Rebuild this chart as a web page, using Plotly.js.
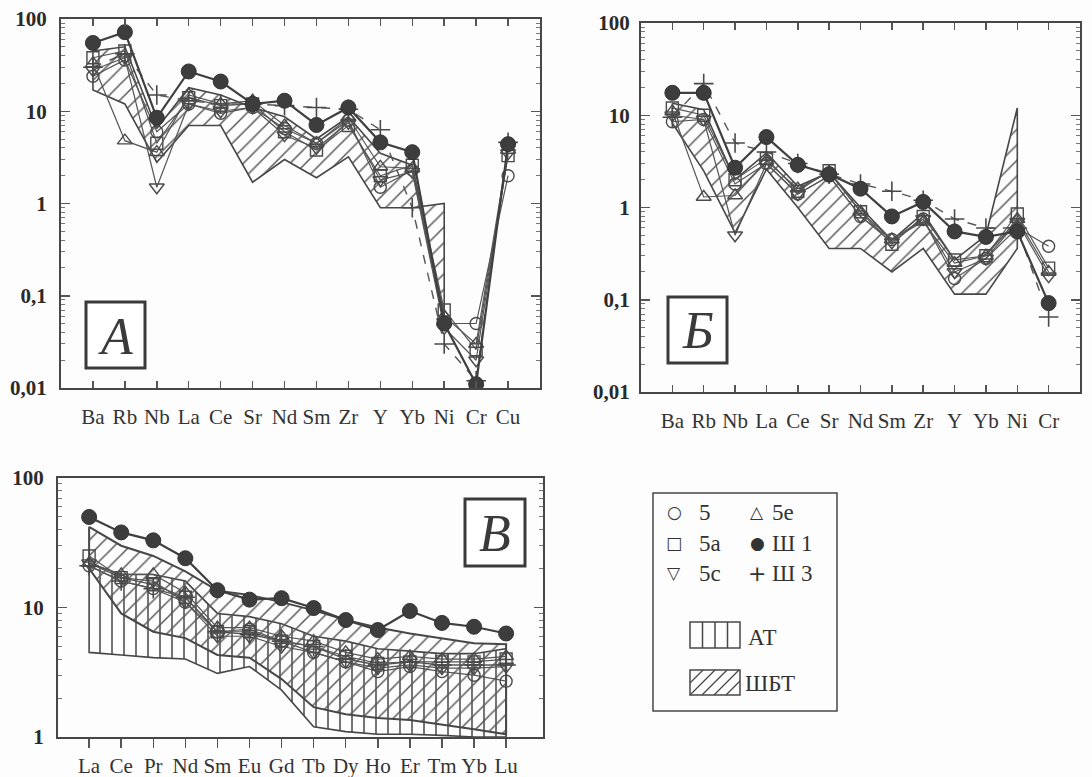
<!DOCTYPE html>
<html><head><meta charset="utf-8">
<script src="https://cdn.plot.ly/plotly-3.0.1.min.js"></script>
<style>html,body{margin:0;padding:0;background:#fff}#chart{width:1092px;height:777px}</style>
</head><body><div id="chart"></div>
<script>
// ---------- categories ----------
const catsA = ['Ba','Rb','Nb','La','Ce','Sr','Nd','Sm','Zr','Y','Yb','Ni','Cr','Cu'];
const catsB = ['Ba','Rb','Nb','La','Ce','Sr','Nd','Sm','Zr','Y','Yb','Ni','Cr'];
const catsV = ['La','Ce','Pr','Nd','Sm','Eu','Gd','Tb','Dy','Ho','Er','Tm','Yb','Lu'];
const yTickVals = [0.01, 0.1, 1, 10, 100];
const yTickText = ['0,01', '0,1', '1', '10', '100'];
const yTickValsV = [1, 10, 100];
const yTickTextV = ['1', '10', '100'];

// ---------- panel A ----------
const a_5   = [24, 36, 6.0, 12, 9.5, 11, 6.5, 4.5, 8, 1.5, 2.3, 0.05, 0.05, 2.0];
const a_5a  = [38, 45, 4.5, 14, 11.5, 12, 6, 3.8, 7, 2.0, 2.6, 0.07, 0.026, 3.3];
const a_5c  = [28, 38, 1.5, 12, 10, 11, 5.5, 4.0, 7.5, 1.8, 2.2, 0.045, 0.02, 3.5];
const a_5e  = [33, 4.8, 3.6, 15, 12, 13, 7, 4.5, 8.5, 2.5, 2.4, 0.06, 0.03, 3.8];
const a_sh1 = [55, 72, 8.5, 27, 21, 12, 13, 7.1, 11, 4.6, 3.6, 0.05, 0.011, 4.4];
const a_sh3 = [30, 42, 15, 13, 12, 12, 11.5, 11, 10.5, 6.3, 0.9, 0.03, 0.012, 4.6];
const a_shbtUpper = [45, 50, 6.5, 18, 15, 11, 8.7, 5, 8.7, 3.5, 2.6, 0.06];
const a_shbtLower = [17, 12, 2.8, 7, 7, 1.7, 3.0, 1.9, 3.2, 0.9, 0.9, 1.0];

// ---------- panel B ----------
const b_5   = [8.5, 9, 1.8, 3.0, 1.4, 2.2, 0.8, 0.45, 0.75, 0.17, 0.28, 0.6, 0.38];
const b_5a  = [12, 10, 2.0, 3.4, 1.5, 2.5, 0.9, 0.4, 0.8, 0.27, 0.3, 0.85, 0.22];
const b_5c  = [10, 9, 0.5, 3.0, 1.4, 2.2, 0.8, 0.42, 0.75, 0.2, 0.28, 0.7, 0.18];
const b_5e  = [11, 1.3, 1.35, 3.2, 1.6, 2.4, 0.9, 0.45, 0.7, 0.25, 0.3, 0.75, 0.2];
const b_sh1 = [17.5, 17.5, 2.7, 5.8, 2.9, 2.3, 1.6, 0.8, 1.15, 0.55, 0.48, 0.55, 0.092];
const b_sh3 = [9.5, 22, 5, 4, 3, 2.3, 1.8, 1.5, 1.2, 0.75, 0.6, 0.6, 0.065];
const b_shbtUpper = [13.5, 11.5, 2.0, 3.9, 1.7, 2.4, 1.0, 0.44, 0.87, 0.27, 0.5, 12];
const b_shbtLower = [8.2, 2.5, 0.53, 2.6, 1.0, 0.36, 0.36, 0.2, 0.36, 0.115, 0.115, 0.36];

// ---------- panel V ----------
const v_5   = [21, 16, 14, 11, 6.5, 6.8, 5.5, 4.5, 3.8, 3.2, 3.5, 3.2, 3.0, 2.7];
const v_5a  = [25, 17, 15, 12, 6.5, 6.5, 5.5, 5.0, 4.2, 3.7, 3.8, 3.8, 3.8, 4.0];
const v_5c  = [22, 17, 16, 11, 6.0, 6.0, 5.0, 4.5, 3.8, 3.4, 3.6, 3.4, 3.4, 3.5];
const v_5e  = [22, 18, 18, 13, 7.0, 7.0, 6.0, 5.5, 4.5, 4.0, 4.2, 4.0, 4.0, 4.2];
const v_sh1 = [50, 38, 33, 24, 13.6, 11.5, 11.8, 9.9, 8.0, 6.7, 9.4, 7.6, 7.1, 6.3];
const v_sh3 = [21, 16, 14, 12, 6.5, 6.2, 5.5, 5.0, 4.0, 3.6, 3.8, 3.6, 3.6, 3.6];
const v_shbtUpper = [42, 30, 25, 19, 13.5, 12.5, 11, 9.5, 8, 7, 6.3, 5.8, 5.3, 5.2];
const v_shbtLower = [20, 9, 6.5, 5.8, 4.3, 4.1, 2.8, 1.7, 1.5, 1.4, 1.35, 1.25, 1.15, 1.05];
const v_atUpper = [22, 18, 18, 16, 9, 8.5, 7.5, 6, 5.5, 4.8, 4.6, 4.4, 4.4, 4.8];
const v_atLower = [4.5, 4.3, 4.1, 4.0, 3.1, 3.5, 2.3, 1.2, 1.1, 1.05, 1.05, 1.03, 1.0, 1.0];

// ---------- helpers ----------
const W = 1092, H = 777;
const fx = p => p / W;
const fy = p => 1 - p / H;
const INK = '#474747';
const SERIF = 'Liberation Serif';

function band(cats, upper, lower, xa, ya, shape, size, lw) {
  const xs = cats.slice(0, upper.length);
  return {
    type: 'scatter', mode: 'lines', xaxis: xa, yaxis: ya,
    x: xs.concat(xs.slice().reverse()).concat([xs[0]]),
    y: upper.concat(lower.slice().reverse()).concat([upper[0]]),
    fill: 'toself', fillcolor: 'rgba(0,0,0,0)',
    fillpattern: {shape: shape, size: size, solidity: 0.14, fgcolor: '#5a5a5a', bgcolor: 'rgba(0,0,0,0)'},
    line: {color: INK, width: lw}, hoverinfo: 'skip', showlegend: false
  };
}
function series(cats, vals, xa, ya, symbol, msize, opts) {
  opts = opts || {};
  return {
    type: 'scatter', mode: 'lines+markers', xaxis: xa, yaxis: ya,
    x: cats, y: vals,
    line: {color: opts.lc || '#555', width: opts.lw || 1.2, dash: opts.dash || 'solid'},
    marker: {symbol: symbol, size: msize, color: opts.mc || '#4a4a4a',
             line: {color: opts.mlc || '#4a4a4a', width: opts.mlw || 1.4}},
    showlegend: false, hoverinfo: 'skip'
  };
}
function panelSeries(cats, d, xa, ya, sh3dash) {
  return [
    series(cats, d.s5, xa, ya, 'circle-open', 12),
    series(cats, d.s5a, xa, ya, 'square-open', 12),
    series(cats, d.s5c, xa, ya, 'triangle-down-open', 13),
    series(cats, d.s5e, xa, ya, 'triangle-up-open', 13),
    series(cats, d.sh3, xa, ya, 'cross-thin-open', 14, {dash: sh3dash ? 'dash' : 'solid', lw: 1.4, mlw: 1.6}),
    series(cats, d.sh1, xa, ya, 'circle', 15, {lw: 2.2, lc: '#404040', mc: '#3d3d3d', mlc: '#333', mlw: 1})
  ];
}

const traces = [];
traces.push(band(catsA, a_shbtUpper, a_shbtLower, 'x', 'y', '/', 11, 1.6));
traces.push(...panelSeries(catsA, {s5: a_5, s5a: a_5a, s5c: a_5c, s5e: a_5e, sh1: a_sh1, sh3: a_sh3}, 'x', 'y', true));
traces.push(band(catsB, b_shbtUpper, b_shbtLower, 'x2', 'y2', '/', 11, 1.6));
traces.push(...panelSeries(catsB, {s5: b_5, s5a: b_5a, s5c: b_5c, s5e: b_5e, sh1: b_sh1, sh3: b_sh3}, 'x2', 'y2', true));
traces.push(band(catsV, v_atUpper, v_atLower, 'x3', 'y3', '|', 12, 1.6));
traces.push(band(catsV, v_shbtUpper, v_shbtLower, 'x3', 'y3', '/', 11, 2.0));
traces.push(...panelSeries(catsV, {s5: v_5, s5a: v_5a, s5c: v_5c, s5e: v_5e, sh1: v_sh1, sh3: v_sh3}, 'x3', 'y3', false));

function minorVals(lo, hi) {
  const v = [];
  for (let e = lo; e < hi; e++) for (let m = 2; m <= 9; m++) v.push(+(m * Math.pow(10, e)).toPrecision(3));
  return v;
}
function xAxis(cats, domain, range, anchor, extra) {
  return Object.assign({
    domain: domain, anchor: anchor, type: 'category', categoryarray: cats, categoryorder: 'array',
    range: range, showline: true, linecolor: INK, linewidth: 2, mirror: 'ticks',
    ticks: 'inside', ticklen: 7, tickwidth: 1.5, tickcolor: '#555',
    showgrid: false, zeroline: false, fixedrange: true,
    tickfont: {family: SERIF, size: 21, color: '#333'}, ticklabelstandoff: 9
  }, extra || {});
}
function yAxis(domain, range, tv, tt, anchor, lo, hi, standoff) {
  return {
    domain: domain, anchor: anchor, type: 'log', range: range,
    tickmode: 'array', tickvals: tv, ticktext: tt,
    showline: true, linecolor: INK, linewidth: 2, mirror: 'ticks',
    ticks: 'inside', ticklen: 9, tickwidth: 1.5, tickcolor: '#555',
    minor: {tickmode: 'array', tickvals: minorVals(lo, hi), ticks: 'inside', ticklen: 4, tickwidth: 1, tickcolor: '#777', showgrid: false},
    showgrid: false, zeroline: false, fixedrange: true,
    tickfont: {family: SERIF, size: 21, color: '#2a2a2a', weight: 700}, ticklabelstandoff: standoff
  };
}

const layout = {
  width: W, height: H, margin: {l: 0, r: 0, t: 0, b: 0},
  paper_bgcolor: '#fdfdfd', plot_bgcolor: 'rgba(0,0,0,0)', showlegend: false,
  xaxis: xAxis(catsA, [fx(61), fx(540)], [-1, 14], 'y'),
  yaxis: yAxis([fy(388), fy(19)], [-2, 2], yTickVals, yTickText, 'x', -2, 2, 8),
  xaxis2: xAxis(catsB, [fx(641), fx(1080)], [-1, 13], 'y2'),
  yaxis2: yAxis([fy(392), fy(23)], [-2, 2], yTickVals, yTickText, 'x2', -2, 2, 5),
  xaxis3: xAxis(catsV, [fx(58), fx(543)], [-0.97, 14.15], 'y3', {ticks: 'outside', ticklen: 9, mirror: true, ticklabelstandoff: 0}),
  xaxis4: xAxis(catsV, [fx(58), fx(543)], [-0.97, 14.15], 'y3', {overlaying: 'x3', side: 'top', showticklabels: false, showline: false, mirror: false}),
  yaxis3: yAxis([fy(737), fy(478)], [0, 2], yTickValsV, yTickTextV, 'x3', 0, 2, 8),
  shapes: [], annotations: []
};

// panel letter boxes
const letterBoxes = [
  {t: 'А', x0: 86, y0: 302, x1: 145, y1: 368},
  {t: 'Б', x0: 668, y0: 297, x1: 727, y1: 363},
  {t: 'В', x0: 465, y0: 499, x1: 525, y1: 566}
];
letterBoxes.forEach(b => {
  layout.shapes.push({type: 'rect', xref: 'paper', yref: 'paper', x0: fx(b.x0), x1: fx(b.x1), y0: fy(b.y1), y1: fy(b.y0),
    line: {color: '#3a3a3a', width: 3}, fillcolor: 'rgba(255,255,255,0.9)'});
  layout.annotations.push({xref: 'paper', yref: 'paper', x: fx((b.x0 + b.x1) / 2), y: fy((b.y0 + b.y1) / 2 + 1),
    text: b.t, showarrow: false, xanchor: 'center', yanchor: 'middle',
    font: {family: SERIF, size: 52, color: '#3a3a3a', style: 'italic'}});
});

// legend box
layout.shapes.push({type: 'rect', xref: 'paper', yref: 'paper', x0: fx(653), x1: fx(837), y0: fy(711), y1: fy(493),
  line: {color: INK, width: 1.5}, fillcolor: 'rgba(0,0,0,0)'});
const legSym = [
  {s: '○', l: '5', x: 674, lx: 697, y: 512},
  {s: '□', l: '5a', x: 674, lx: 697, y: 543},
  {s: '▽', l: '5c', x: 674, lx: 697, y: 573},
  {s: '△', l: '5e', x: 757, lx: 770, y: 512},
  {s: '●', l: 'Ш 1', x: 757, lx: 770, y: 543},
  {s: '+', l: 'Ш 3', x: 757, lx: 770, y: 573}
];
legSym.forEach(e => {
  layout.annotations.push({xref: 'paper', yref: 'paper', x: fx(e.x), y: fy(e.y), text: e.s, showarrow: false,
    xanchor: 'center', yanchor: 'middle', font: {family: 'DejaVu Sans', size: e.s === '+' ? 22 : 17, color: '#333'}});
  layout.annotations.push({xref: 'paper', yref: 'paper', x: fx(e.lx), y: fy(e.y), text: e.l, showarrow: false,
    xanchor: 'left', yanchor: 'middle', font: {family: SERIF, size: 23, color: '#333'}});
});
// АТ swatch
layout.shapes.push({type: 'rect', xref: 'paper', yref: 'paper', x0: fx(690), x1: fx(740), y0: fy(648), y1: fy(622),
  line: {color: INK, width: 1.5}});
[702.5, 715, 727.5].forEach(x => layout.shapes.push({type: 'line', xref: 'paper', yref: 'paper',
  x0: fx(x), x1: fx(x), y0: fy(648), y1: fy(622), line: {color: INK, width: 1.5}}));
// ШБТ swatch
layout.shapes.push({type: 'rect', xref: 'paper', yref: 'paper', x0: fx(690), x1: fx(740), y0: fy(695), y1: fy(670),
  line: {color: INK, width: 1.5}});
[[690, 683, 703, 670], [690, 695, 715, 670], [702, 695, 727, 670], [714, 695, 739, 670], [726, 695, 740, 681]].forEach(s =>
  layout.shapes.push({type: 'line', xref: 'paper', yref: 'paper', x0: fx(s[0]), y0: fy(s[1]), x1: fx(s[2]), y1: fy(s[3]),
    line: {color: INK, width: 1.2}}));
layout.annotations.push({xref: 'paper', yref: 'paper', x: fx(746), y: fy(637), text: 'АТ', showarrow: false,
  xanchor: 'left', yanchor: 'middle', font: {family: SERIF, size: 23, color: '#333'}});
layout.annotations.push({xref: 'paper', yref: 'paper', x: fx(743), y: fy(683), text: 'ШБТ', showarrow: false,
  xanchor: 'left', yanchor: 'middle', font: {family: SERIF, size: 23, color: '#333'}});

Plotly.newPlot('chart', traces, layout, {staticPlot: true, displayModeBar: false});
</script></body></html>
